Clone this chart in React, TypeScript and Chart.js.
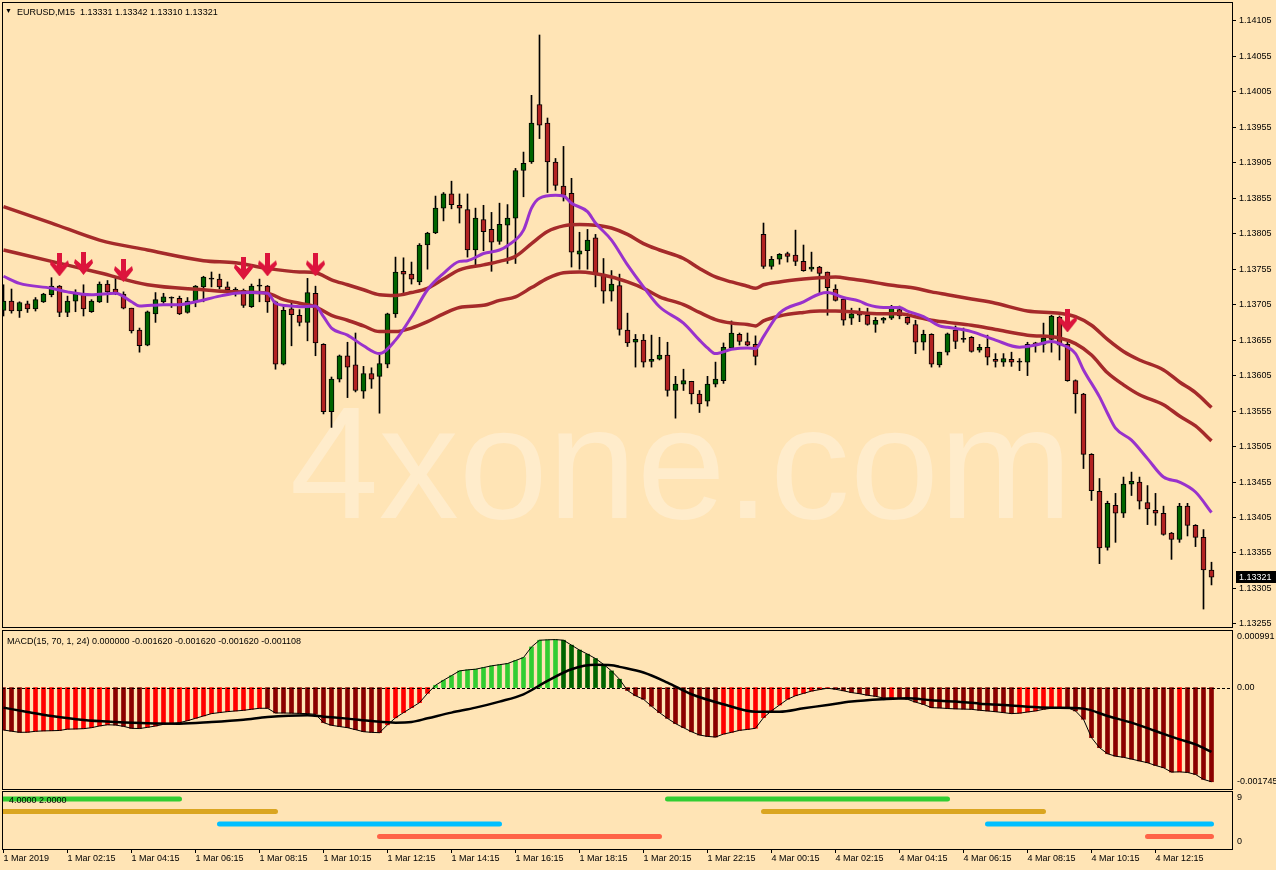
import React, { useEffect, useRef } from 'react';
import { Chart, registerables } from 'chart.js';
Chart.register(...registerables);

const BG = '#FFE4B5';
const FONT = '"Liberation Sans", Arial, sans-serif';

// ---------- EURUSD M15 candles ----------
const opens = [
  1.13697, 1.13710, 1.13696, 1.13706, 1.13699, 1.13709, 1.13719, 1.13731, 1.13694, 1.13710,
  1.13720, 1.13695, 1.13709, 1.13734, 1.13727, 1.13720, 1.13700, 1.13669, 1.13648, 1.13692,
  1.13709, 1.13714, 1.13714, 1.13694, 1.13710, 1.13730, 1.13741, 1.13741, 1.13730, 1.13725,
  1.13725, 1.13702, 1.13731, 1.13731, 1.13709, 1.13621, 1.13699, 1.13690, 1.13680, 1.13721,
  1.13649, 1.13554, 1.13600, 1.13633, 1.13620, 1.13583, 1.13608, 1.13604, 1.13621, 1.13692,
  1.13752, 1.13748, 1.13737, 1.13789, 1.13806, 1.13841, 1.13861, 1.13845, 1.13839, 1.13782,
  1.13825, 1.13811, 1.13794, 1.13817, 1.13827, 1.13894, 1.13906, 1.13987, 1.13961, 1.13906,
  1.13872, 1.13862, 1.13776, 1.13781, 1.13799, 1.13748, 1.13724, 1.13732, 1.13669, 1.13652,
  1.13655, 1.13625, 1.13628, 1.13634, 1.13584, 1.13593, 1.13597, 1.13579, 1.13569, 1.13593,
  1.13598, 1.13644, 1.13663, 1.13653, 1.13649, 1.13804, 1.13759, 1.13769, 1.13777, 1.13775,
  1.13766, 1.13755, 1.13758, 1.13751, 1.13727, 1.13713, 1.13686, 1.13694, 1.13690, 1.13677,
  1.13683, 1.13686, 1.13698, 1.13687, 1.13677, 1.13652, 1.13663, 1.13620, 1.13638, 1.13669,
  1.13656, 1.13659, 1.13641, 1.13645, 1.13628, 1.13624, 1.13628, 1.13624, 1.13624, 1.13651,
  1.13649, 1.13656, 1.13687, 1.13649, 1.13598, 1.13579, 1.13494, 1.13442, 1.13363, 1.13422,
  1.13411, 1.13452, 1.13455, 1.13426, 1.13415, 1.13411, 1.13383, 1.13374, 1.13421, 1.13394,
  1.13377, 1.13331,
];
const highs = [
  1.13733, 1.13727, 1.13709, 1.13710, 1.13715, 1.13721, 1.13743, 1.13732, 1.13717, 1.13726,
  1.13733, 1.13712, 1.13737, 1.13739, 1.13744, 1.13723, 1.13700, 1.13672, 1.13696, 1.13722,
  1.13721, 1.13716, 1.13717, 1.13715, 1.13732, 1.13745, 1.13751, 1.13748, 1.13737, 1.13729,
  1.13727, 1.13734, 1.13741, 1.13732, 1.13710, 1.13704, 1.13708, 1.13698, 1.13742, 1.13731,
  1.13650, 1.13603, 1.13634, 1.13652, 1.13665, 1.13618, 1.13616, 1.13634, 1.13693, 1.13772,
  1.13771, 1.13765, 1.13791, 1.13807, 1.13858, 1.13863, 1.13879, 1.13861, 1.13861, 1.13841,
  1.13845, 1.13835, 1.13848, 1.13846, 1.13897, 1.13920, 1.14000, 1.14085, 1.13968, 1.13911,
  1.13928, 1.13883, 1.13807, 1.13811, 1.13804, 1.13770, 1.13753, 1.13748, 1.13693, 1.13663,
  1.13663, 1.13662, 1.13659, 1.13652, 1.13604, 1.13614, 1.13597, 1.13584, 1.13604, 1.13624,
  1.13651, 1.13682, 1.13665, 1.13665, 1.13661, 1.13820, 1.13773, 1.13777, 1.13779, 1.13810,
  1.13789, 1.13779, 1.13759, 1.13751, 1.13733, 1.13713, 1.13700, 1.13700, 1.13700, 1.13687,
  1.13687, 1.13704, 1.13703, 1.13688, 1.13683, 1.13669, 1.13664, 1.13638, 1.13665, 1.13675,
  1.13672, 1.13660, 1.13649, 1.13662, 1.13636, 1.13636, 1.13638, 1.13629, 1.13652, 1.13652,
  1.13679, 1.13690, 1.13689, 1.13652, 1.13599, 1.13580, 1.13495, 1.13460, 1.13428, 1.13439,
  1.13462, 1.13469, 1.13462, 1.13450, 1.13439, 1.13421, 1.13384, 1.13425, 1.13425, 1.13395,
  1.13388, 1.13342,
];
const lows = [
  1.13689, 1.13693, 1.13687, 1.13694, 1.13696, 1.13708, 1.13716, 1.13688, 1.13688, 1.13695,
  1.13689, 1.13694, 1.13708, 1.13708, 1.13719, 1.13699, 1.13665, 1.13638, 1.13647, 1.13680,
  1.13707, 1.13701, 1.13691, 1.13693, 1.13702, 1.13709, 1.13730, 1.13727, 1.13721, 1.13717,
  1.13701, 1.13701, 1.13709, 1.13694, 1.13614, 1.13620, 1.13647, 1.13675, 1.13654, 1.13633,
  1.13551, 1.13532, 1.13596, 1.13574, 1.13582, 1.13573, 1.13587, 1.13552, 1.13616, 1.13687,
  1.13721, 1.13734, 1.13733, 1.13755, 1.13805, 1.13823, 1.13840, 1.13820, 1.13772, 1.13759,
  1.13781, 1.13752, 1.13790, 1.13763, 1.13763, 1.13857, 1.13904, 1.13939, 1.13863, 1.13866,
  1.13851, 1.13758, 1.13755, 1.13755, 1.13730, 1.13707, 1.13710, 1.13662, 1.13646, 1.13617,
  1.13617, 1.13617, 1.13627, 1.13576, 1.13545, 1.13584, 1.13565, 1.13553, 1.13562, 1.13589,
  1.13594, 1.13643, 1.13648, 1.13647, 1.13620, 1.13756, 1.13755, 1.13762, 1.13765, 1.13760,
  1.13752, 1.13752, 1.13722, 1.13690, 1.13710, 1.13676, 1.13677, 1.13681, 1.13676, 1.13666,
  1.13679, 1.13684, 1.13685, 1.13677, 1.13636, 1.13641, 1.13617, 1.13617, 1.13634, 1.13643,
  1.13652, 1.13638, 1.13638, 1.13620, 1.13617, 1.13618, 1.13618, 1.13612, 1.13605, 1.13638,
  1.13638, 1.13638, 1.13627, 1.13597, 1.13552, 1.13474, 1.13429, 1.13340, 1.13359, 1.13370,
  1.13405, 1.13436, 1.13417, 1.13395, 1.13394, 1.13380, 1.13346, 1.13370, 1.13379, 1.13364,
  1.13276, 1.13310,
];
const closes = [
  1.13710, 1.13696, 1.13708, 1.13699, 1.13712, 1.13720, 1.13731, 1.13694, 1.13710, 1.13720,
  1.13699, 1.13710, 1.13734, 1.13723, 1.13720, 1.13700, 1.13668, 1.13647, 1.13695, 1.13712,
  1.13716, 1.13714, 1.13692, 1.13710, 1.13731, 1.13744, 1.13741, 1.13730, 1.13726, 1.13725,
  1.13704, 1.13731, 1.13731, 1.13709, 1.13621, 1.13697, 1.13691, 1.13680, 1.13722, 1.13651,
  1.13554, 1.13600, 1.13633, 1.13617, 1.13584, 1.13608, 1.13600, 1.13622, 1.13692, 1.13751,
  1.13748, 1.13741, 1.13789, 1.13806, 1.13841, 1.13861, 1.13846, 1.13841, 1.13782, 1.13827,
  1.13808, 1.13793, 1.13818, 1.13827, 1.13894, 1.13904, 1.13961, 1.13958, 1.13906, 1.13873,
  1.13859, 1.13779, 1.13781, 1.13796, 1.13748, 1.13724, 1.13734, 1.13670, 1.13651, 1.13656,
  1.13624, 1.13628, 1.13634, 1.13584, 1.13593, 1.13598, 1.13579, 1.13565, 1.13593, 1.13600,
  1.13645, 1.13665, 1.13653, 1.13648, 1.13632, 1.13759, 1.13769, 1.13776, 1.13773, 1.13766,
  1.13753, 1.13758, 1.13749, 1.13729, 1.13711, 1.13683, 1.13692, 1.13690, 1.13677, 1.13683,
  1.13686, 1.13700, 1.13689, 1.13679, 1.13652, 1.13663, 1.13621, 1.13638, 1.13664, 1.13653,
  1.13656, 1.13639, 1.13645, 1.13631, 1.13625, 1.13629, 1.13624, 1.13624, 1.13649, 1.13648,
  1.13658, 1.13689, 1.13648, 1.13598, 1.13579, 1.13494, 1.13443, 1.13362, 1.13425, 1.13411,
  1.13452, 1.13456, 1.13428, 1.13417, 1.13411, 1.13381, 1.13374, 1.13421, 1.13394, 1.13377,
  1.13331, 1.13321,
];

// ---------- axis ticks ----------
const timeTickIdx = [0, 8, 16, 24, 32, 40, 48, 56, 64, 72, 80, 88, 96, 104, 112, 120, 128, 136, 144];
const timeTickLabels = [
  '1 Mar 2019', '1 Mar 02:15', '1 Mar 04:15', '1 Mar 06:15', '1 Mar 08:15', '1 Mar 10:15',
  '1 Mar 12:15', '1 Mar 14:15', '1 Mar 16:15', '1 Mar 18:15', '1 Mar 20:15', '1 Mar 22:15',
  '4 Mar 00:15', '4 Mar 02:15', '4 Mar 04:15', '4 Mar 06:15', '4 Mar 08:15', '4 Mar 10:15', '4 Mar 12:15',
];
const priceTicks = [
  1.13255, 1.13305, 1.13355, 1.13405, 1.13455, 1.13505, 1.13555, 1.13605, 1.13655,
  1.13705, 1.13755, 1.13805, 1.13855, 1.13905, 1.13955, 1.14005, 1.14055, 1.14105,
];

// ---------- moving averages (read at candle indices) ----------
const upperIdx = [0, 6, 12, 18, 25, 29, 33, 37, 39, 41, 43, 45, 47, 49, 51, 53, 55, 57, 60, 62, 64, 66, 68, 70, 72, 74, 76, 78, 80, 82, 85, 87, 89, 91, 93, 94, 95, 97, 100, 102, 104, 106, 108, 110, 112, 114, 116, 118, 121, 124, 128, 132, 134, 136, 138, 140, 142, 145, 147, 149, 151];
const upperVal = [1.13843, 1.13820, 1.13796, 1.13782, 1.13767, 1.13764, 1.13756, 1.13751, 1.13750, 1.13740, 1.13733, 1.13726, 1.13719, 1.13718, 1.13722, 1.13728, 1.13741, 1.13754, 1.13761, 1.13766, 1.13773, 1.13791, 1.13808, 1.13816, 1.13818, 1.13817, 1.13813, 1.13804, 1.13791, 1.13782, 1.13770, 1.13756, 1.13744, 1.13737, 1.13731, 1.13728, 1.13733, 1.13737, 1.13741, 1.13743, 1.13744, 1.13741, 1.13738, 1.13734, 1.13731, 1.13728, 1.13723, 1.13719, 1.13713, 1.13707, 1.13696, 1.13693, 1.13688, 1.13676, 1.13656, 1.13639, 1.13627, 1.13613, 1.13596, 1.13581, 1.13560];
const lowerIdx = [0, 6, 12, 18, 25, 29, 33, 35, 37, 39, 41, 43, 45, 47, 49, 51, 53, 55, 57, 60, 62, 64, 66, 68, 70, 72, 76, 78, 80, 82, 85, 87, 89, 91, 93, 94, 95, 97, 100, 102, 104, 106, 108, 110, 112, 114, 116, 118, 121, 124, 128, 132, 134, 136, 138, 140, 142, 145, 147, 149, 151];
const lowerVal = [1.13782, 1.13766, 1.13750, 1.13733, 1.13726, 1.13723, 1.13721, 1.13712, 1.13707, 1.13702, 1.13690, 1.13683, 1.13675, 1.13667, 1.13667, 1.13672, 1.13681, 1.13692, 1.13701, 1.13704, 1.13711, 1.13716, 1.13729, 1.13742, 1.13750, 1.13751, 1.13744, 1.13737, 1.13728, 1.13716, 1.13705, 1.13694, 1.13684, 1.13679, 1.13677, 1.13675, 1.13682, 1.13689, 1.13694, 1.13696, 1.13696, 1.13695, 1.13693, 1.13692, 1.13692, 1.13688, 1.13683, 1.13680, 1.13676, 1.13670, 1.13662, 1.13658, 1.13650, 1.13634, 1.13609, 1.13592, 1.13578, 1.13564, 1.13548, 1.13534, 1.13513];
const fastIdx = [0, 2, 6, 8, 11, 14, 16, 17, 20, 22, 24, 27, 29, 31, 33, 34, 36, 37, 39, 40, 41, 43, 45, 47, 49, 51, 53, 55, 57, 58, 60, 62, 63, 65, 66, 67, 69, 70, 71, 73, 74, 76, 78, 80, 82, 85, 87, 88, 89, 91, 93, 94, 95, 97, 100, 102, 103, 105, 107, 108, 110, 112, 113, 115, 117, 118, 121, 124, 127, 129, 131, 132, 134, 135, 137, 138, 139, 141, 143, 145, 147, 149, 151];
const fastVal = [1.13745, 1.13735, 1.13728, 1.13723, 1.13719, 1.13721, 1.13709, 1.13703, 1.13705, 1.13705, 1.13709, 1.13717, 1.13721, 1.13722, 1.13721, 1.13707, 1.13703, 1.13702, 1.13703, 1.13688, 1.13672, 1.13662, 1.13647, 1.13636, 1.13655, 1.13688, 1.13726, 1.13749, 1.13766, 1.13767, 1.13777, 1.13782, 1.13788, 1.13810, 1.13841, 1.13855, 1.13859, 1.13858, 1.13848, 1.13836, 1.13820, 1.13796, 1.13761, 1.13730, 1.13702, 1.13679, 1.13655, 1.13644, 1.13636, 1.13642, 1.13644, 1.13643, 1.13660, 1.13693, 1.13709, 1.13720, 1.13722, 1.13715, 1.13710, 1.13705, 1.13701, 1.13701, 1.13696, 1.13688, 1.13675, 1.13673, 1.13667, 1.13655, 1.13645, 1.13648, 1.13653, 1.13650, 1.13636, 1.13613, 1.13575, 1.13552, 1.13531, 1.13514, 1.13488, 1.13462, 1.13455, 1.13441, 1.13412];

// ---------- sell arrows ----------
const arrowIdx = [7, 10, 15, 30, 33, 39, 133];
const arrowVal = [1.13761, 1.13763, 1.13753, 1.13756, 1.13761, 1.13761, 1.13682];

// ---------- MACD(15,70,1,24) ----------
const macdHist = [
  -0.000730, -0.000750, -0.000770, -0.000768, -0.000752, -0.000745, -0.000742, -0.000738, -0.000715, -0.000712,
  -0.000707, -0.000690, -0.000660, -0.000640, -0.000644, -0.000667, -0.000701, -0.000705, -0.000684, -0.000661,
  -0.000632, -0.000618, -0.000603, -0.000570, -0.000529, -0.000488, -0.000448, -0.000430, -0.000414, -0.000402,
  -0.000391, -0.000373, -0.000356, -0.000356, -0.000437, -0.000437, -0.000440, -0.000444, -0.000448, -0.000460,
  -0.000603, -0.000649, -0.000670, -0.000690, -0.000724, -0.000759, -0.000770, -0.000776, -0.000640, -0.000520,
  -0.000431, -0.000345, -0.000259, -0.000100, 0.000040, 0.000126, 0.000206, 0.000287, 0.000305, 0.000316,
  0.000345, 0.000374, 0.000394, 0.000414, 0.000466, 0.000517, 0.000700, 0.000815, 0.000822, 0.000826,
  0.000815, 0.000730, 0.000646, 0.000575, 0.000500, 0.000400, 0.000287, 0.000144, -0.000050, -0.000140,
  -0.000201, -0.000320, -0.000431, -0.000530, -0.000620, -0.000690, -0.000760, -0.000816, -0.000840, -0.000851,
  -0.000800, -0.000770, -0.000736, -0.000720, -0.000700, -0.000517, -0.000400, -0.000300, -0.000201, -0.000140,
  -0.000100, -0.000060, -0.000035, -0.000011, -0.000029, -0.000055, -0.000086, -0.000105, -0.000132, -0.000150,
  -0.000180, -0.000175, -0.000190, -0.000201, -0.000250, -0.000290, -0.000345, -0.000350, -0.000360, -0.000366,
  -0.000370, -0.000374, -0.000390, -0.000402, -0.000415, -0.000431, -0.000448, -0.000440, -0.000420, -0.000402,
  -0.000374, -0.000355, -0.000345, -0.000345, -0.000402, -0.000546, -0.000862, -0.001034, -0.001138, -0.001180,
  -0.001200, -0.001230, -0.001262, -0.001293, -0.001340, -0.001379, -0.001454, -0.001450, -0.001460, -0.001494,
  -0.001580, -0.001620,
];
const signalIdx = [0, 3, 6, 10, 14, 18, 22, 26, 30, 33, 38, 40, 43, 46, 49, 51, 53, 56, 59, 62, 65, 68, 71, 74, 76, 77, 80, 83, 86, 90, 94, 97, 100, 103, 106, 110, 113, 116, 119, 122, 125, 128, 131, 135, 138, 141, 144, 147, 149, 151];
const signalVal = [-0.000345, -0.000420, -0.000489, -0.000557, -0.000592, -0.000615, -0.000621, -0.000592, -0.000552, -0.000506, -0.000477, -0.000500, -0.000534, -0.000575, -0.000603, -0.000592, -0.000529, -0.000431, -0.000345, -0.000241, -0.000115, 0.000115, 0.000316, 0.000391, 0.000385, 0.000356, 0.000259, 0.000086, -0.000115, -0.000287, -0.000414, -0.000414, -0.000356, -0.000299, -0.000241, -0.000201, -0.000184, -0.000218, -0.000241, -0.000276, -0.000299, -0.000328, -0.000345, -0.000362, -0.000489, -0.000603, -0.000747, -0.000891, -0.000977, -0.001108];
const macdScaleTop = 0.000991;
const macdScaleBottom = -0.001745;

// ---------- bottom signal-bar indicator ----------
const levelValues = [8, 6, 4, 2];
const levelColors = ['#32CD32', '#DAA520', '#00BFFF', '#FF6347'];
const levelSegments = [
  [[0, 22], [83, 118]],
  [[0, 34], [95, 130]],
  [[27, 62], [123, 151]],
  [[47, 82], [143, 151]],
];
const levelScaleMin = 0;
const levelScaleMax = 9.28;
const levelScaleLabels = [9, 0];

// x range: candle i center sits at 3.5 + 8*i px
const X_MIN = -0.1875;
const X_MAX = 153.5625;

const panelBorder = {
  id: 'panelBorder',
  afterDraw(chart: any) {
    const { ctx, chartArea: a } = chart;
    ctx.save();
    ctx.strokeStyle = '#000';
    ctx.lineWidth = 1;
    ctx.strokeRect(a.left + 0.5, a.top + 0.5, a.right - a.left, a.bottom - a.top);
    ctx.restore();
  },
};

function edgeLabels(chart: any, items: { v: number; t: string }[]) {
  const { ctx, chartArea: a } = chart;
  const ys = chart.scales.y;
  ctx.save();
  ctx.font = `9px ${FONT}`;
  ctx.fillStyle = '#000';
  ctx.textAlign = 'left';
  ctx.textBaseline = 'middle';
  items.forEach(({ v, t }) => {
    let y = ys.getPixelForValue(v);
    y = Math.min(Math.max(y, a.top + 7), a.bottom - 7);
    ctx.fillText(t, a.right + 5, y);
  });
  ctx.restore();
}

function makeArrow(color: string) {
  const c = document.createElement('canvas');
  c.width = 19;
  c.height = 23;
  const g = c.getContext('2d')!;
  g.fillStyle = color;
  g.beginPath();
  g.moveTo(7, 0);
  g.lineTo(12, 0);
  g.lineTo(12, 12);
  g.lineTo(18, 7);
  g.lineTo(19, 11);
  g.lineTo(9.5, 23);
  g.lineTo(0, 11);
  g.lineTo(1, 7);
  g.lineTo(7, 12);
  g.closePath();
  g.fill();
  return c;
}

const baseOpts = (padding: any) => ({
  responsive: false,
  animation: false as const,
  devicePixelRatio: 1,
  events: [] as any[],
  layout: { padding, autoPadding: false },
  plugins: { legend: { display: false }, tooltip: { enabled: false } },
});

export default function App() {
  const mainRef = useRef<HTMLCanvasElement>(null);
  const macdRef = useRef<HTMLCanvasElement>(null);
  const botRef = useRef<HTMLCanvasElement>(null);

  useEffect(() => {
    Chart.defaults.font.family = FONT;
    Chart.defaults.font.size = 9;
    Chart.defaults.color = '#000';

    const idx = closes.map((_, i) => i);
    const arrowImg = makeArrow('#DC143C');

    // ---------- main price chart ----------
    const main = new Chart(mainRef.current!, {
      type: 'bar',
      data: {
        datasets: [
          {
            type: 'line',
            data: arrowIdx.map((x, k) => ({ x, y: arrowVal[k] })),
            showLine: false,
            pointStyle: arrowImg as any,
            pointRadius: 10,
            order: 0,
          } as any,
          {
            type: 'line',
            data: fastIdx.map((x, k) => ({ x, y: fastVal[k] })),
            borderColor: '#9932CC',
            borderWidth: 3,
            pointRadius: 0,
            cubicInterpolationMode: 'monotone',
            order: 1,
          },
          {
            type: 'line',
            data: upperIdx.map((x, k) => ({ x, y: upperVal[k] })),
            borderColor: '#A52A2A',
            borderWidth: 3.5,
            pointRadius: 0,
            cubicInterpolationMode: 'monotone',
            order: 2,
          },
          {
            type: 'line',
            data: lowerIdx.map((x, k) => ({ x, y: lowerVal[k] })),
            borderColor: '#A52A2A',
            borderWidth: 3.5,
            pointRadius: 0,
            cubicInterpolationMode: 'monotone',
            order: 2,
          },
          {
            type: 'bar',
            data: idx.map((i) => ({ x: i, y: [opens[i], closes[i]] })),
            backgroundColor: idx.map((i) =>
              closes[i] > opens[i] ? '#006400' : closes[i] < opens[i] ? '#B22222' : '#000000'
            ),
            borderColor: '#000',
            borderWidth: 1,
            borderSkipped: false,
            barThickness: 5,
            minBarLength: 1,
            grouped: false,
            order: 3,
          } as any,
          {
            type: 'bar',
            data: idx.map((i) => ({ x: i, y: [lows[i], highs[i]] })),
            backgroundColor: '#000',
            borderWidth: 0,
            barThickness: 1,
            grouped: false,
            order: 4,
          } as any,
        ],
      },
      options: {
        ...baseOpts({ left: 2, top: 2, bottom: 1, right: 0 }),
        scales: {
          x: { type: 'linear', min: X_MIN, max: X_MAX, display: false, offset: false },
          y: {
            type: 'linear',
            position: 'right',
            min: 1.132507,
            max: 1.141315,
            afterBuildTicks: (s: any) => {
              s.ticks = priceTicks.map((v) => ({ value: v }));
            },
            afterFit: (s: any) => {
              s.width = 44;
              s.paddingTop = 0;
              s.paddingBottom = 0;
            },
            ticks: {
              padding: 3,
              color: '#000',
              font: { size: 9, family: FONT },
              callback: (v: any) => Number(v).toFixed(5),
            },
            grid: { drawOnChartArea: false, drawTicks: true, tickLength: 4, color: '#000' },
            border: { display: false },
          },
        },
      } as any,
      plugins: [
        panelBorder,
        {
          id: 'mainDecor',
          beforeDatasetsDraw(chart: any) {
            const { ctx } = chart;
            ctx.save();
            ctx.font = `160px ${FONT}`;
            ctx.fillStyle = 'rgba(255,255,255,0.3)';
            ctx.textAlign = 'center';
            ctx.textBaseline = 'alphabetic';
            ctx.fillText('4xone.com', 681, 518);
            ctx.restore();
          },
          afterDraw(chart: any) {
            const { ctx, chartArea: a } = chart;
            ctx.save();
            ctx.fillStyle = '#000';
            ctx.textBaseline = 'alphabetic';
            ctx.textAlign = 'left';
            ctx.font = `7px ${FONT}`;
            ctx.fillText('▼', 5, 13);
            ctx.font = `9px ${FONT}`;
            const last = closes.length - 1;
            ctx.fillText(
              `EURUSD,M15  ${opens[last].toFixed(5)} ${highs[last].toFixed(5)} ${lows[last].toFixed(5)} ${closes[last].toFixed(5)}`,
              17,
              14.5
            );
            const py = Math.round(chart.scales.y.getPixelForValue(closes[last]));
            ctx.fillStyle = '#000';
            ctx.fillRect(a.right + 4, py - 6, 40, 12);
            ctx.fillStyle = '#fff';
            ctx.textBaseline = 'middle';
            ctx.fillText(closes[last].toFixed(5), a.right + 7, py + 0.5);
            ctx.restore();
          },
        },
      ],
    });

    // ---------- MACD panel ----------
    const histColors = macdHist.map((v, i) => {
      const prev = i > 0 ? macdHist[i - 1] : v;
      const up = v > prev;
      if (v >= 0) return up ? '#32CD32' : '#006400';
      return up ? '#FF0000' : '#8B0000';
    });
    const macd = new Chart(macdRef.current!, {
      type: 'bar',
      data: {
        datasets: [
          {
            type: 'line',
            data: signalIdx.map((x, k) => ({ x, y: signalVal[k] })),
            borderColor: '#000',
            borderWidth: 2.5,
            pointRadius: 0,
            cubicInterpolationMode: 'monotone',
            order: 0,
          },
          {
            type: 'line',
            data: idx.map((i) => ({ x: i, y: macdHist[i] })),
            borderColor: '#000',
            borderWidth: 1,
            pointRadius: 0,
            order: 1,
          },
          {
            type: 'bar',
            data: idx.map((i) => ({ x: i, y: macdHist[i] })),
            backgroundColor: histColors,
            borderWidth: 0,
            barThickness: 4,
            grouped: false,
            order: 2,
          } as any,
        ],
      },
      options: {
        ...baseOpts({ left: 2, top: 2, bottom: 1, right: 44 }),
        scales: {
          x: { type: 'linear', min: X_MIN, max: X_MAX, display: false, offset: false },
          y: { type: 'linear', min: macdScaleBottom, max: macdScaleTop, display: false },
        },
      } as any,
      plugins: [
        panelBorder,
        {
          id: 'macdDecor',
          afterDatasetsDraw(chart: any) {
            const { ctx, chartArea: a } = chart;
            const y0 = Math.round(chart.scales.y.getPixelForValue(0)) + 0.5;
            ctx.save();
            ctx.strokeStyle = '#000';
            ctx.lineWidth = 1;
            ctx.setLineDash([3, 2]);
            ctx.beginPath();
            ctx.moveTo(a.left, y0);
            ctx.lineTo(a.right, y0);
            ctx.stroke();
            ctx.restore();
          },
          afterDraw(chart: any) {
            const { ctx } = chart;
            const last = macdHist.length - 1;
            const lv = macdHist[last];
            const sv = signalVal[signalVal.length - 1];
            ctx.save();
            ctx.fillStyle = '#000';
            ctx.font = `9px ${FONT}`;
            ctx.textBaseline = 'alphabetic';
            ctx.textAlign = 'left';
            ctx.fillText(
              `MACD(15, 70, 1, 24) ${(0).toFixed(6)} ${lv.toFixed(6)} ${lv.toFixed(6)} ${lv.toFixed(6)} ${sv.toFixed(6)}`,
              7,
              16
            );
            ctx.restore();
            edgeLabels(chart, [
              { v: macdScaleTop, t: macdScaleTop.toFixed(6) },
              { v: 0, t: '0.00' },
              { v: macdScaleBottom, t: macdScaleBottom.toFixed(6) },
            ]);
          },
        },
      ],
    });

    // ---------- bottom indicator panel ----------
    const levelDatasets = levelValues.map((lv, k) => {
      const pts: any[] = [];
      levelSegments[k].forEach(([s, e], j) => {
        if (j > 0) pts.push({ x: (s + levelSegments[k][j - 1][1]) / 2, y: null });
        pts.push({ x: s, y: lv });
        pts.push({ x: e, y: lv });
      });
      return {
        type: 'line',
        data: pts,
        borderColor: levelColors[k],
        borderWidth: 5,
        borderCapStyle: 'round',
        pointRadius: 0,
        spanGaps: false,
      } as any;
    });
    const bot = new Chart(botRef.current!, {
      type: 'line',
      data: { datasets: levelDatasets },
      options: {
        ...baseOpts({ left: 2, top: 1, bottom: 0, right: 44 }),
        scales: {
          x: {
            type: 'linear',
            min: X_MIN,
            max: X_MAX,
            position: 'bottom',
            offset: false,
            afterBuildTicks: (s: any) => {
              s.ticks = timeTickIdx.map((v) => ({ value: v }));
            },
            afterFit: (s: any) => {
              s.height = 21;
              s.paddingLeft = 0;
              s.paddingRight = 0;
            },
            ticks: {
              autoSkip: false,
              maxRotation: 0,
              minRotation: 0,
              align: 'start',
              padding: 0,
              color: '#000',
              font: { size: 9, family: FONT },
              callback: (_v: any, i: number) => timeTickLabels[i] ?? '',
            },
            grid: { drawOnChartArea: false, drawTicks: true, tickLength: 4, color: '#000' },
            border: { display: false },
          },
          y: { type: 'linear', min: levelScaleMin, max: levelScaleMax, display: false },
        },
      } as any,
      plugins: [
        panelBorder,
        {
          id: 'botDecor',
          afterDraw(chart: any) {
            const { ctx } = chart;
            ctx.save();
            ctx.fillStyle = '#000';
            ctx.font = `9px ${FONT}`;
            ctx.textBaseline = 'alphabetic';
            ctx.textAlign = 'left';
            ctx.fillText(`${levelValues[2].toFixed(4)} ${levelValues[3].toFixed(4)}`, 9, 13);
            ctx.restore();
            edgeLabels(
              chart,
              levelScaleLabels.map((v) => ({ v, t: String(v) }))
            );
          },
        },
      ],
    });

    return () => {
      main.destroy();
      macd.destroy();
      bot.destroy();
    };
  }, []);

  return (
    <div
      style={{
        position: 'fixed',
        left: 0,
        top: 0,
        width: 1276,
        height: 870,
        background: BG,
        overflow: 'hidden',
      }}
    >
      <canvas ref={mainRef} width={1276} height={628} style={{ position: 'absolute', left: 0, top: 0 }} />
      <canvas ref={macdRef} width={1276} height={162} style={{ position: 'absolute', left: 0, top: 628 }} />
      <canvas ref={botRef} width={1276} height={80} style={{ position: 'absolute', left: 0, top: 790 }} />
    </div>
  );
}
